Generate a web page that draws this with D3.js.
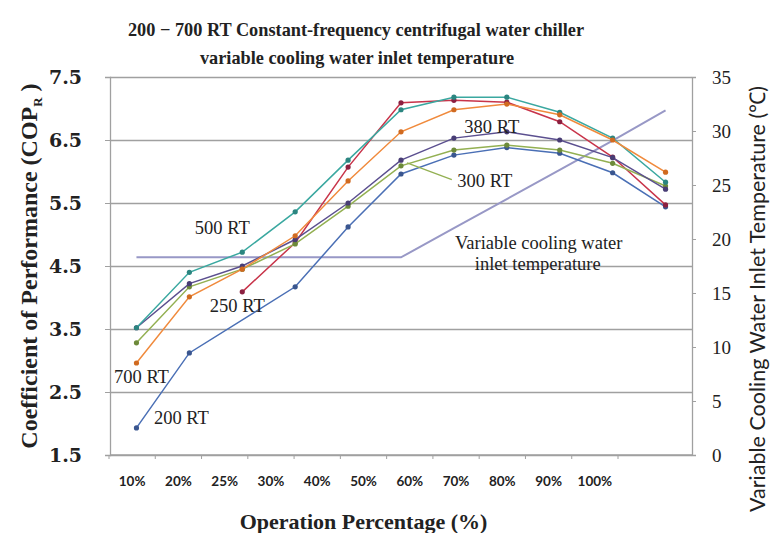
<!DOCTYPE html>
<html>
<head>
<meta charset="utf-8">
<script src="https://cdn.jsdelivr.net/npm/d3@7/dist/d3.min.js"></script>
<style>
  html, body { margin: 0; padding: 0; background: #ffffff; }
  svg { display: block; }
</style>
</head>
<body>
<script>
// ---------------- data ----------------
const categories = ["10%", "20%", "25%", "30%", "40%", "50%", "60%", "70%", "80%", "90%", "100%"];
const copTicks = [1.5, 2.5, 3.5, 4.5, 5.5, 6.5, 7.5];
const tempTicks = [0, 5, 10, 15, 20, 25, 30, 35];

const cop200 = [1.93, 3.12, null, 4.17, 5.12, 5.96, 6.26, 6.38, 6.29, 5.98, 5.44];
const cop250 = [null, null, 4.09, 4.87, 6.07, 7.09, 7.13, 7.10, 6.79, 6.23, 5.47];
const cop300 = [3.28, 4.17, 4.45, 4.85, 5.45, 6.09, 6.34, 6.42, 6.34, 6.13, 5.77];
const cop380 = [3.52, 4.22, 4.50, 4.92, 5.50, 6.18, 6.53, 6.63, 6.50, 6.22, 5.72];
const cop500 = [3.52, 4.40, 4.72, 5.36, 6.18, 6.98, 7.18, 7.18, 6.94, 6.53, 5.83];
const cop700 = [2.96, 4.01, 4.45, 4.98, 5.85, 6.63, 6.98, 7.07, 6.90, 6.50, 5.99];
const coolingTemp = [18.3, 18.3, 18.3, 18.3, 18.3, 18.3, 21.0, 23.7, 26.4, 29.1, 31.9];

const seriesNames = ["200 RT", "250 RT", "300 RT", "380 RT", "500 RT", "700 RT"];
const seriesValues = [cop200, cop250, cop300, cop380, cop500, cop700];

// ---------------- styling ----------------
const seriesColors = ["#4a6fb5", "#c8344a", "#93b052", "#5b4f8f", "#3aa8a0", "#f08a3c"];
const markerColors = ["#3a568f", "#8b2040", "#6d8a3a", "#483d75", "#2b8580", "#d06a20"];
const coolingColor = "#9898c6";
const gridColor = "#a0a0a0";
const serif = "'Liberation Serif', 'Times New Roman', serif";
const wideSerif = "'DejaVu Serif', serif";
const sans = "Lato, 'Open Sans', sans-serif";

const W = 771, H = 533;
const plot = { left: 110, right: 692, top: 77, bottom: 455 };

const svg = d3.select("body").append("svg").attr("width", W).attr("height", H);
svg.append("rect").attr("width", W).attr("height", H).attr("fill", "#ffffff");

// scales
const xData = d3.scaleBand().domain(categories).range([plot.left, plot.right]);
const xLabel = d3.scaleBand().domain(categories).range([109, 618]);
const y = d3.scaleLinear().domain([1.5, 7.5]).range([plot.bottom, plot.top]);
const y2 = d3.scaleLinear().domain([0, 35]).range([plot.bottom, plot.top]);
const cx = c => xData(c) + xData.bandwidth() / 2;

// gridlines
svg.append("g")
  .attr("transform", `translate(${plot.left},0)`)
  .call(d3.axisLeft(y).tickValues(copTicks).tickSize(-(plot.right - plot.left)).tickFormat(""))
  .call(g => g.select(".domain").remove())
  .call(g => g.selectAll("line").attr("stroke", gridColor).attr("stroke-width", 1.3));

// left axis
const yAxis = svg.append("g")
  .attr("transform", `translate(${plot.left},0)`)
  .call(d3.axisLeft(y).tickValues(copTicks).tickSize(5).tickPadding(23).tickFormat(d3.format(".1f")));
yAxis.select(".domain").attr("stroke", gridColor).attr("stroke-width", 1.3);
yAxis.selectAll("line").attr("stroke", gridColor);
yAxis.selectAll("text").attr("font-family", wideSerif).attr("font-weight", "bold")
  .attr("font-size", 19).attr("fill", "#222");

// right axis
const y2Axis = svg.append("g")
  .attr("transform", `translate(${plot.right},0)`)
  .call(d3.axisRight(y2).tickValues(tempTicks).tickSize(4).tickPadding(16));
y2Axis.select(".domain").attr("stroke", gridColor).attr("stroke-width", 1.3);
y2Axis.selectAll("line").attr("stroke", gridColor);
y2Axis.selectAll("text").attr("font-family", serif).attr("font-size", 19).attr("fill", "#222");

// x axis line
svg.append("line")
  .attr("x1", plot.left).attr("x2", plot.right)
  .attr("y1", plot.bottom).attr("y2", plot.bottom)
  .attr("stroke", gridColor).attr("stroke-width", 1.3);

// x axis labels (category axis)
const xAxis = svg.append("g")
  .attr("transform", `translate(0,${plot.bottom})`)
  .call(d3.axisBottom(xLabel).tickSize(0).tickPadding(21));
xAxis.select(".domain").remove();
xAxis.selectAll("text").attr("font-family", sans).attr("font-weight", "bold")
  .attr("font-size", 13.5).attr("fill", "#222");
// category boundary tick marks
const boundaries = categories.map(c => xLabel(c)).concat([xLabel.range()[1]]);
svg.append("g").selectAll("line").data(boundaries).join("line")
  .attr("x1", d => d).attr("x2", d => d)
  .attr("y1", plot.bottom).attr("y2", plot.bottom + 4)
  .attr("stroke", gridColor);

// cooling water temperature line
const coolLine = d3.line().x((d, i) => cx(categories[i])).y(d => y2(d));
svg.append("path").datum(coolingTemp)
  .attr("d", coolLine).attr("fill", "none")
  .attr("stroke", coolingColor).attr("stroke-width", 2);

// COP series
const line = d3.line().x(d => cx(d.c)).y(d => y(d.v));
seriesValues.forEach((vals, k) => {
  const pts = vals.map((v, i) => ({ c: categories[i], v })).filter(d => d.v !== null);
  svg.append("path").datum(pts)
    .attr("d", line).attr("fill", "none")
    .attr("stroke", seriesColors[k]).attr("stroke-width", 1.5);
  svg.append("g").selectAll("circle").data(pts).join("circle")
    .attr("cx", d => cx(d.c)).attr("cy", d => y(d.v)).attr("r", 2.6)
    .attr("fill", markerColors[k]);
});

// annotations
function ann(txt, cat, dx, v, size) {
  return svg.append("text").attr("x", cx(cat) + dx).attr("y", y(v))
    .attr("text-anchor", "middle").attr("dominant-baseline", "central")
    .attr("font-family", serif).attr("font-size", size).attr("fill", "#222")
    .text(txt);
}
ann("500 RT", "25%", -20, 5.1, 18.5);
ann("250 RT", "25%", -5, 3.87, 18.5);
ann("700 RT", "10%", 5, 2.74, 18.5);
ann("200 RT", "20%", -8, 2.09, 18.5);
ann("380 RT", "70%", -15, 6.71, 18.5);
ann("300 RT", "70%", -22, 5.85, 18.5);
// leader line for 300 RT
svg.append("line")
  .attr("x1", cx("50%") + 6).attr("y1", y(cop300[5]) - 3)
  .attr("x2", cx("70%") - 55).attr("y2", y(5.87))
  .attr("stroke", "#93b052").attr("stroke-width", 1.3);
ann("Variable cooling water", "80%", -21, 4.86, 18.5);
ann("inlet temperature", "80%", -22, 4.53, 18.5);

// title
const title = svg.append("text").attr("text-anchor", "middle")
  .attr("font-family", serif).attr("font-weight", "bold").attr("font-size", 18.3).attr("fill", "#222");
title.append("tspan").attr("x", 356).attr("y", 36).text("200 \u2212 700 RT Constant-frequency centrifugal water chiller");
title.append("tspan").attr("x", 357).attr("y", 64).text("variable cooling water inlet temperature");

// x title
svg.append("text")
  .attr("x", (xLabel.range()[0] + xLabel.range()[1]) / 2).attr("y", 529)
  .attr("text-anchor", "middle")
  .attr("font-family", serif).attr("font-weight", "bold").attr("font-size", 22).attr("fill", "#222")
  .text("Operation Percentage (%)");

// left y title
const lt = svg.append("text")
  .attr("transform", `translate(37,${(plot.top + plot.bottom) / 2}) rotate(-90)`)
  .attr("text-anchor", "middle")
  .attr("font-family", serif).attr("font-weight", "bold").attr("font-size", 24).attr("fill", "#222");
lt.append("tspan").text("Coefficient of Performance (COP");
lt.append("tspan").attr("font-size", 13).attr("dy", 5).text("R");
lt.append("tspan").attr("dy", -5).text(" )");

// right y title
svg.append("text")
  .attr("transform", `translate(765,299) rotate(-90)`)
  .attr("text-anchor", "middle")
  .attr("font-family", sans).attr("font-size", 21.5).attr("fill", "#222")
  .text("Variable Cooling Water Inlet Temperature (\u2103)");
</script>
</body>
</html>
